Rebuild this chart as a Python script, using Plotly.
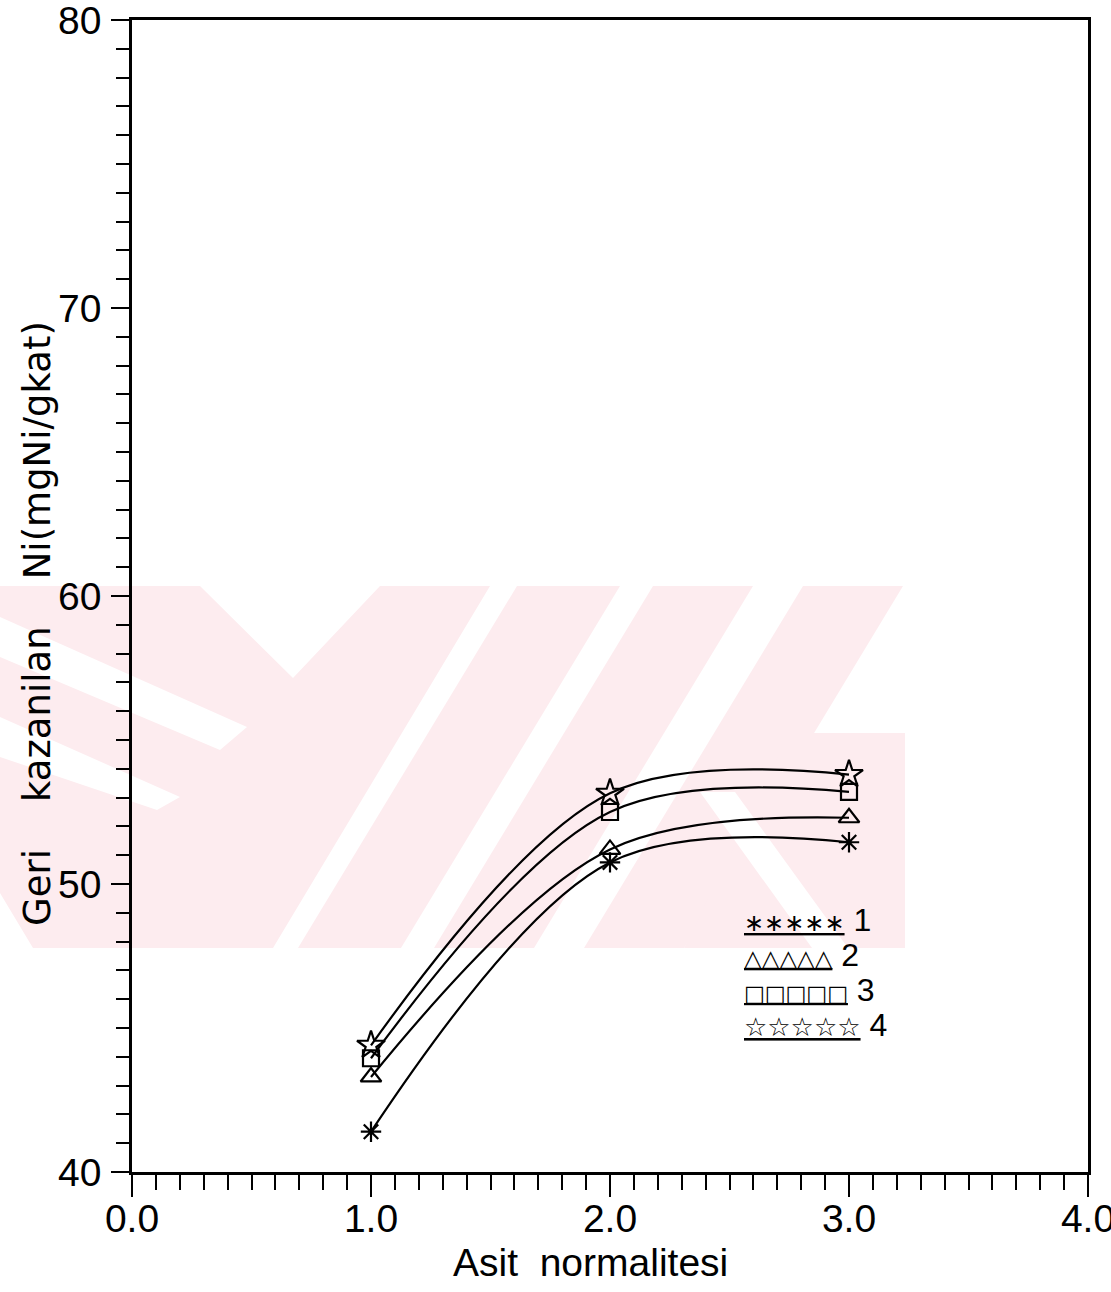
import plotly.graph_objects as go

# ---- data ----
x_vals = [1.0, 2.0, 3.0]
series_names = ["1", "2", "3", "4"]
s1 = [41.4, 50.75, 51.45]
s2 = [43.3, 51.2, 52.3]
s3 = [43.95, 52.5, 53.2]
s4 = [44.4, 53.15, 53.8]
x_ticks = [0, 1, 2, 3, 4]
x_ticktext = ["0.0", "1.0", "2.0", "3.0", "4.0"]
y_ticks = [40, 50, 60, 70, 80]
y_ticktext = ["40", "50", "60", "70", "80"]

series = [s1, s2, s3, s4]
symbols = ["asterisk-open", "triangle-up-open", "square-open", "star-open"]
sizes = [17, 18, 16, 21]
legend_glyphs = ["∗", "△", "□", "☆"]
legend_sizes = [24, 23, 22, 26]

# ---- figure geometry (pixels) ----
W, H = 1111, 1292
ML, MR, MT, MB = 132, 23, 20, 120
PW, PH = W - ML - MR, H - MT - MB


def px(x):
    return (x - ML) / PW


def py(y):
    return (H - MB - y) / PH


# background watermark (pale pink scan stamp), pixel polygons
WM_PINK = [
    [(0, 586), (200, 586), (293, 678), (380, 586), (490, 586), (273, 948), (33, 948), (0, 893)],
    [(517, 586), (620, 586), (401, 948), (298, 948)],
    [(653, 586), (753, 586), (534, 948), (434, 948)],
    [(803, 586), (903, 586), (684, 948), (584, 948)],
    [(790, 733), (905, 733), (905, 948), (684, 948)],
]
WM_WHITE = [
    [(0, 617), (247, 727), (220, 750), (0, 657)],
    [(0, 717), (180, 797), (157, 810), (0, 757)],
    [(700, 792), (735, 792), (848, 948), (812, 948)],
]

fig = go.Figure()

for name, ys, sym, sz in zip(series_names, series, symbols, sizes):
    fig.add_trace(go.Scatter(
        x=x_vals, y=ys, name=name, mode="lines+markers",
        line=dict(color="black", width=2.2, shape="spline", smoothing=1.0),
        marker=dict(symbol=sym, size=sz, color="black", line=dict(color="black", width=2.2)),
        showlegend=False,
    ))

shapes = []
for poly, col in [(p, "#fdecef") for p in WM_PINK] + [(p, "white") for p in WM_WHITE]:
    path = "M " + " L ".join(f"{px(a):.5f},{py(b):.5f}" for a, b in poly) + " Z"
    shapes.append(dict(type="path", path=path, xref="paper", yref="paper",
                       fillcolor=col, line=dict(width=0), layer="below"))

annotations = [
    dict(text="Geri    kazanilan    Ni(mgNi/gkat)", textangle=-90,
         x=px(37), y=py(624), xref="paper", yref="paper", showarrow=False,
         xanchor="center", yanchor="middle",
         font=dict(family="DejaVu Sans", size=37, color="black")),
    dict(text="Asit  normalitesi",
         x=px(590), y=py(1262), xref="paper", yref="paper", showarrow=False,
         xanchor="center", yanchor="middle",
         font=dict(family="Liberation Sans", size=39, color="black")),
]

row_y = [920, 955, 990, 1025]
for name, g, gs, ry in zip(series_names, legend_glyphs, legend_sizes, row_y):
    annotations.append(dict(
        text=(f"<span style='text-decoration:underline;font-size:{gs}px'>{g * 5}</span>"
              f"<span style='font-family:Liberation Sans;font-size:32px'> {name}</span>"),
        x=px(742), y=py(ry), xref="paper", yref="paper", showarrow=False,
        xanchor="left", yanchor="middle",
        font=dict(family="DejaVu Sans", size=24, color="black")))

axis_common = dict(
    showline=True, linecolor="black", linewidth=2.5, mirror=True,
    showgrid=False, zeroline=False, ticks="outside", tickcolor="black",
    tickwidth=2, ticklabeloverflow="allow",
    tickfont=dict(family="Liberation Sans", size=39, color="black"),
)

fig.update_layout(
    width=W, height=H, margin=dict(l=ML, r=MR, t=MT, b=MB, autoexpand=False),
    paper_bgcolor="white", plot_bgcolor="rgba(0,0,0,0)",
    shapes=shapes, annotations=annotations,
    xaxis=dict(range=[0, 4], tickvals=x_ticks, ticktext=x_ticktext, ticklen=22,
               minor=dict(dtick=0.1, tick0=0, ticks="outside", ticklen=15, tickwidth=2, tickcolor="black"),
               ticklabelstandoff=-12, **axis_common),
    yaxis=dict(range=[40, 80], tickvals=y_ticks, ticktext=y_ticktext, ticklen=18,
               minor=dict(dtick=1, tick0=40, ticks="outside", ticklen=13, tickwidth=2, tickcolor="black"),
               ticklabelstandoff=2, **axis_common),
)

fig.write_html("out.html")
